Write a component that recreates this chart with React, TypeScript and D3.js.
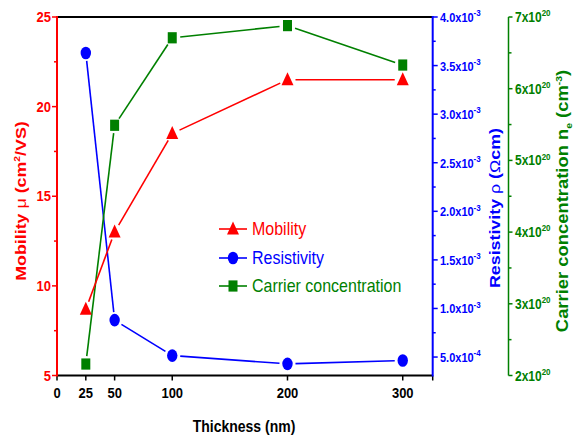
import * as d3 from "d3";

// thickness (nm) and the three measured series
const thickness = [25, 50, 100, 200, 300];
const mobility = [8.7, 13.0, 18.5, 21.5, 21.5];
const resistivity = [3.63e-3, 0.88e-3, 0.515e-3, 0.43e-3, 0.464e-3];
const carrier = [2.16e20, 5.49e20, 6.71e20, 6.88e20, 6.33e20];

const xTicks = [0, 25, 50, 100, 200, 300];
const mobilityTicks = [5, 10, 15, 20, 25];
const resistivityTicks = [0.5e-3, 1.0e-3, 1.5e-3, 2.0e-3, 2.5e-3, 3.0e-3, 3.5e-3, 4.0e-3];
const resistivityLabels = ["5.0", "1.0", "1.5", "2.0", "2.5", "3.0", "3.5", "4.0"];
const resistivityExp = ["-4", "-3", "-3", "-3", "-3", "-3", "-3", "-3"];
const carrierTicks = [2e20, 3e20, 4e20, 5e20, 6e20, 7e20];
const carrierLabels = ["2", "3", "4", "5", "6", "7"];

const RED = "#ff0000";
const BLUE = "#0000ff";
const GREEN = "#008000";
const SY = 1.15; // the original figure is a bit taller than wide
const FONT = "'Liberation Sans', Arial, sans-serif";

const top = 17, bottom = 375.5, left = 57, right = 432.7, greenX = 508.5;

const x = d3.scaleLinear().domain([0, 326]).range([left, right]);
const yMob = d3.scaleLinear().domain([5, 25]).range([bottom, top]);
const yRes = d3.scaleLinear().domain([0.31e-3, 4.0e-3]).range([bottom, top]);
const yCar = d3.scaleLinear().domain([2e20, 7e20]).range([bottom, top]);

const mids = (t: number[]) => t.slice(1).map((v, i) => (v + t[i]) / 2);

function Marker({ kind, cx, cy, color }: { kind: string; cx: number; cy: number; color: string }) {
  if (kind === "circle") return <ellipse cx={cx} cy={cy} rx={5.2} ry={6.3} fill={color} />;
  if (kind === "square") return <rect x={cx - 4.5} y={cy - 5.6} width={9} height={11.2} fill={color} />;
  return <path d={`M${cx},${cy - 7.5}L${cx + 6},${cy + 5.5}L${cx - 6},${cy + 5.5}Z`} fill={color} />;
}

function Series({ ys, color, kind }: { ys: number[]; color: string; kind: string }) {
  const pts = thickness.map((t, i) => [x(t), ys[i]]);
  const gap = 8;
  const segs = pts.slice(1).map((p, i) => {
    const q = pts[i];
    const dx = p[0] - q[0], dy = p[1] - q[1];
    const len = Math.hypot(dx, dy);
    if (len < gap * 2) return null;
    const ux = dx / len, uy = dy / len;
    return (
      <line key={i} x1={q[0] + ux * gap} y1={q[1] + uy * gap} x2={p[0] - ux * gap} y2={p[1] - uy * gap}
        stroke={color} strokeWidth={1.6} />
    );
  });
  return (
    <g>
      {segs}
      {pts.map((p, i) => <Marker key={i} kind={kind} cx={p[0]} cy={p[1]} color={color} />)}
    </g>
  );
}

function T({ x: tx, y: ty, anchor = "start", size = 13, weight = "bold", color = "#000", rot = false, children }: any) {
  const tf = rot ? `translate(${tx},${ty}) rotate(-90) scale(${SY},1)` : `translate(${tx},${ty}) scale(1,${SY})`;
  return (
    <text transform={tf} textAnchor={anchor} fontFamily={FONT} fontSize={size} fontWeight={weight} fill={color}>
      {children}
    </text>
  );
}

export default function App() {
  const legend = [
    { label: "Mobility", color: RED, kind: "triangle", y: 229 },
    { label: "Resistivity", color: BLUE, kind: "circle", y: 258 },
    { label: "Carrier concentration", color: GREEN, kind: "square", y: 286 },
  ];
  return (
    <svg width={580} height={439} style={{ position: "absolute", left: 0, top: 0, background: "#fff" }}>
      {/* frame */}
      <line x1={left} x2={right} y1={top} y2={top} stroke="#000" strokeWidth={2} />
      <line x1={left} x2={right} y1={bottom} y2={bottom} stroke="#000" strokeWidth={2} />
      <line x1={right} x2={right} y1={bottom} y2={bottom + 5} stroke="#000" strokeWidth={1.5} />

      {/* x axis */}
      {xTicks.map((t) => (
        <g key={t}>
          <line x1={x(t)} x2={x(t)} y1={bottom} y2={bottom + 5} stroke="#000" strokeWidth={1.5} />
          <T x={x(t)} y={398} anchor="middle">{t}</T>
        </g>
      ))}
      <T x={244} y={432} anchor="middle" size={14}>Thickness (nm)</T>

      {/* left mobility axis */}
      <line x1={left} x2={left} y1={top - 1} y2={bottom + 1} stroke={RED} strokeWidth={2} />
      {mobilityTicks.map((t) => (
        <g key={t}>
          <line x1={left - 5} x2={left} y1={yMob(t)} y2={yMob(t)} stroke={RED} strokeWidth={1.5} />
          <T x={51} y={yMob(t) + 5} anchor="end" color={RED}>{t}</T>
        </g>
      ))}
      {mids(mobilityTicks).map((t) => (
        <line key={t} x1={left - 3} x2={left} y1={yMob(t)} y2={yMob(t)} stroke={RED} strokeWidth={1.5} />
      ))}
      <T x={26} y={201} anchor="middle" size={15.5} color={RED} rot>
        Mobility <tspan fontWeight="normal">μ</tspan> (cm<tspan fontSize={9} dy={-6}>2</tspan>
        <tspan dy={6}>/VS)</tspan>
      </T>

      {/* right resistivity axis */}
      <line x1={right} x2={right} y1={top - 1} y2={bottom + 1} stroke={BLUE} strokeWidth={2} />
      {resistivityTicks.map((t, i) => (
        <g key={t}>
          <line x1={right} x2={right + 5} y1={yRes(t)} y2={yRes(t)} stroke={BLUE} strokeWidth={1.5} />
          <T x={440} y={yRes(t) + 5} size={11} color={BLUE}>
            {resistivityLabels[i]}x10<tspan fontSize={8} dy={-5}>{resistivityExp[i]}</tspan>
          </T>
        </g>
      ))}
      {mids(resistivityTicks).map((t) => (
        <line key={t} x1={right} x2={right + 3} y1={yRes(t)} y2={yRes(t)} stroke={BLUE} strokeWidth={1.5} />
      ))}
      <T x={500} y={208} anchor="middle" size={15.5} color={BLUE} rot>
        Resistivity <tspan fontWeight="normal">ρ</tspan> (<tspan fontWeight="normal">Ω</tspan>cm)
      </T>

      {/* far right carrier axis */}
      <line x1={greenX} x2={greenX} y1={top} y2={bottom} stroke={GREEN} strokeWidth={1.5} />
      {carrierTicks.map((t, i) => (
        <g key={t}>
          <line x1={greenX} x2={greenX + 4} y1={yCar(t)} y2={yCar(t)} stroke={GREEN} strokeWidth={1.5} />
          <T x={515} y={yCar(t) + 5} size={12} color={GREEN}>
            {carrierLabels[i]}x10<tspan fontSize={8} dy={-5}>20</tspan>
          </T>
        </g>
      ))}
      {mids(carrierTicks).map((t) => (
        <line key={t} x1={greenX} x2={greenX + 3} y1={yCar(t)} y2={yCar(t)} stroke={GREEN} strokeWidth={1.5} />
      ))}
      <T x={568} y={201} anchor="middle" size={16} color={GREEN} rot>
        Carrier concentration n<tspan fontSize={9} dy={4}>e</tspan>
        <tspan dy={-4}> (cm</tspan><tspan fontSize={9} dy={-6}>-3</tspan><tspan dy={6}>)</tspan>
      </T>

      {/* data */}
      <Series ys={resistivity.map((v) => yRes(v))} color={BLUE} kind="circle" />
      <Series ys={carrier.map((v) => yCar(v))} color={GREEN} kind="square" />
      <Series ys={mobility.map((v) => yMob(v))} color={RED} kind="triangle" />

      {/* legend */}
      {legend.map((l) => (
        <g key={l.label}>
          <line x1={219} x2={247} y1={l.y} y2={l.y} stroke={l.color} strokeWidth={1.6} />
          <Marker kind={l.kind} cx={233} cy={l.y} color={l.color} />
          <T x={252} y={l.y + 6} size={16} weight="normal" color={l.color}>{l.label}</T>
        </g>
      ))}
    </svg>
  );
}
